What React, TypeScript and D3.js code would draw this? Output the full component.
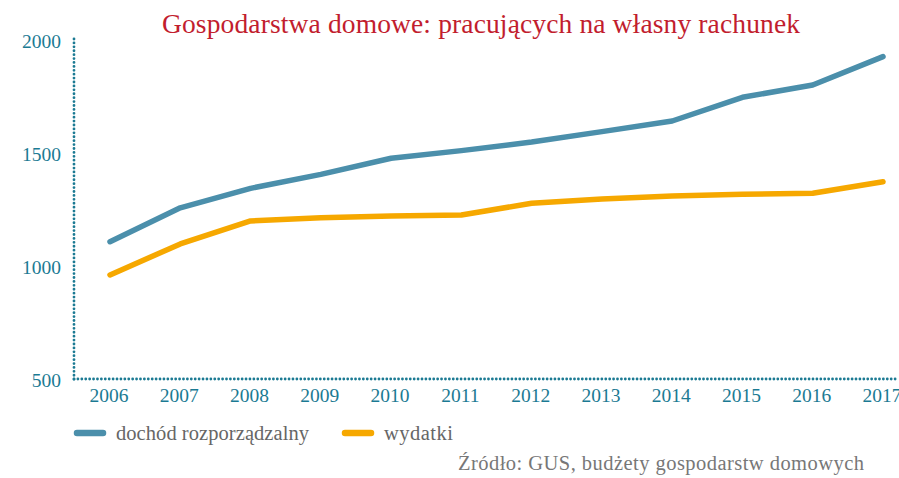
import React from "react";
import * as d3 from "d3";

const years = [2006, 2007, 2008, 2009, 2010, 2011, 2012, 2013, 2014, 2015, 2016, 2017];
const dochod = [1112, 1262, 1348, 1410, 1481, 1515, 1553, 1599, 1646, 1751, 1805, 1931];
const wydatki = [965, 1102, 1204, 1218, 1226, 1230, 1282, 1301, 1314, 1322, 1326, 1377];
const yTicks = [500, 1000, 1500, 2000];
const seriesNames = ["dochód rozporządzalny", "wydatki"];
const seriesColors = ["#4b8fab", "#f6a800"];
const title = "Gospodarstwa domowe: pracujących na własny rachunek";
const source = "Źródło: GUS, budżety gospodarstw domowych";

const W = 899;
const H = 478;
const FONT = "'Liberation Serif', 'DejaVu Serif', serif";
const AXIS = "#1b7a93";

export default function App() {
  const x = d3.scaleLinear().domain([2006, 2017]).range([110, 883]);
  const y = d3.scaleLinear().domain([500, 2000]).range([380, 41]);
  const line = d3
    .line<number>()
    .x((_, i) => x(years[i]))
    .y((d) => y(d));
  const series = [dochod, wydatki];

  return (
    <div style={{ position: "absolute", left: 0, top: 0 }}>
      <svg width={W} height={H} style={{ display: "block", background: "#fff" }}>
        <text x={481} y={33} textAnchor="middle" fontFamily={FONT} fontSize={27.5} fill="#c21d2e"
          textLength={638} lengthAdjust="spacing">
          {title}
        </text>
        {/* y axis dotted */}
        <line x1={74} x2={74} y1={y(2000) - 2} y2={y(500)} stroke={AXIS} strokeWidth={2.8}
          strokeLinecap="round" strokeDasharray="0.01 3.9" />
        {/* x axis dotted */}
        <line x1={74} x2={W} y1={y(500) - 1} y2={y(500) - 1} stroke={AXIS} strokeWidth={2.8}
          strokeLinecap="round" strokeDasharray="0.01 3.9" />
        {yTicks.map((t) => (
          <text key={t} x={61} y={y(t)} dy="0.35em" textAnchor="end" fontFamily={FONT}
            fontSize={19.5} fill={AXIS}>
            {t}
          </text>
        ))}
        {years.map((yr) => (
          <text key={yr} x={x(yr) - 1} y={402} textAnchor="middle" fontFamily={FONT}
            fontSize={19.5} fill={AXIS}>
            {yr}
          </text>
        ))}
        {series.map((s, i) => (
          <path key={i} d={line(s) || ""} fill="none" stroke={seriesColors[i]} strokeWidth={5.5}
            strokeLinecap="round" strokeLinejoin="round" />
        ))}
        {/* legend */}
        {seriesNames.map((n, i) => {
          const lx = i === 0 ? 77 : 345;
          return (
            <g key={n}>
              <line x1={lx} x2={lx + 26} y1={433} y2={433} stroke={seriesColors[i]} strokeWidth={6.5}
                strokeLinecap="round" />
              <text x={lx + 39} y={440} fontFamily={FONT} fontSize={20.5} fill="#666"
                textLength={i === 0 ? 193 : 69} lengthAdjust="spacing">
                {n}
              </text>
            </g>
          );
        })}
        <text x={864} y={470} textAnchor="end" fontFamily={FONT} fontSize={20.5} fill="#777"
          textLength={406} lengthAdjust="spacing">
          {source}
        </text>
      </svg>
    </div>
  );
}
